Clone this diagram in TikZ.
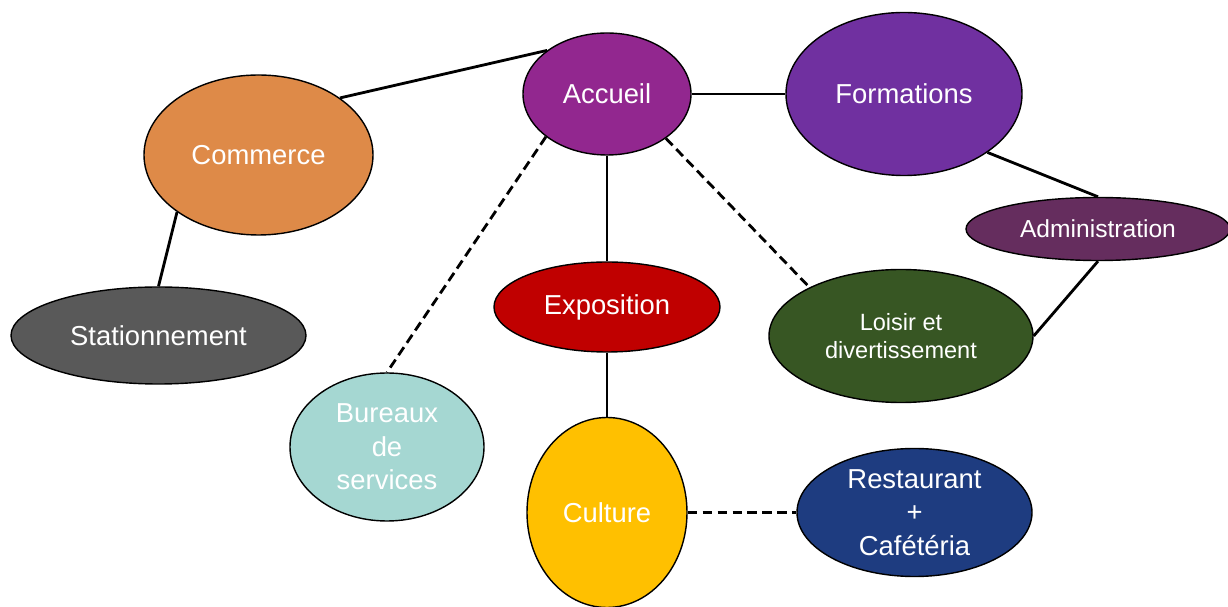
\documentclass[tikz,border=0pt]{standalone}
\usepackage{fontspec}
\setmainfont{Liberation Sans}
\usetikzlibrary{shapes.geometric}
\definecolor{accueilcol}{HTML}{92278F}
\definecolor{formcol}{HTML}{7030A0}
\definecolor{commcol}{HTML}{DE8A48}
\definecolor{statcol}{HTML}{595959}
\definecolor{admincol}{HTML}{652D5E}
\definecolor{expocol}{HTML}{C00000}
\definecolor{loisircol}{HTML}{375623}
\definecolor{burcol}{HTML}{A5D7D2}
\definecolor{cultcol}{HTML}{FFC000}
\definecolor{restocol}{HTML}{1E3C80}
\newcommand{\pxu}{0.02cm}
\newcommand{\bigfont}{\fontsize{15.6}{19}\selectfont}
\newcommand{\midfont}{\fontsize{14}{17}\selectfont}
\newcommand{\smallfont}{\fontsize{13.4}{16}\selectfont}

\begin{document}
\begin{tikzpicture}[x=\pxu, y=-\pxu,
    zone/.style={ellipse, draw=black, line width=0.8pt, text=white,
      inner sep=0pt, align=center, font=\bigfont},
    link/.style={line width=1.6pt},
    dashlink/.style={link, dash pattern=on 5.5pt off 3pt}]
    \useasboundingbox (0,0) rectangle (1228,607);
    % zones
    \node[zone, fill=accueilcol, minimum width=168*\pxu, minimum height=122*\pxu]
      (accueil) at (607,94) {Accueil};
    \node[zone, fill=formcol, minimum width=236*\pxu, minimum height=163*\pxu]
      (formations) at (904,94) {Formations};
    \node[zone, fill=commcol, minimum width=229*\pxu, minimum height=160*\pxu]
      (commerce) at (258.5,155) {Commerce};
    \node[zone, fill=statcol, minimum width=295*\pxu, minimum height=97*\pxu]
      (stationnement) at (158.5,335.5) {Stationnement};
    \node[zone, fill=admincol, minimum width=264*\pxu, minimum height=63*\pxu,
      font=\midfont] (administration) at (1098,229) {Administration};
    \node[zone, fill=expocol, minimum width=226*\pxu, minimum height=90*\pxu]
      (exposition) at (607,307) {Exposition};
    \node[zone, fill=loisircol, minimum width=264*\pxu, minimum height=133*\pxu,
      font=\smallfont] (loisir) at (901,336) {Loisir et\\divertissement};
    \node[zone, fill=burcol, minimum width=194*\pxu, minimum height=148*\pxu]
      (bureaux) at (387,447) {Bureaux\\de\\services};
    \node[zone, fill=cultcol, minimum width=160*\pxu, minimum height=190*\pxu]
      (culture) at (607,512.5) {Culture};
    \node[zone, fill=restocol, minimum width=235*\pxu, minimum height=128*\pxu]
      (restaurant) at (914.5,512.5) {Restaurant\\+\\Caf\'et\'eria};

    % liens
    \draw[link] (commerce.35) -- (accueil.144);
    \draw[link] (commerce.215) -- (stationnement.north);
    \draw[link] (accueil.east) -- (formations.west);
    \draw[link] (accueil.south) -- (exposition.north);
    \draw[link] (formations.-35) -- (administration.north);
    \draw[link] (administration.south) -- (loisir.east);
    \draw[link] (exposition.south) -- (culture.north);
    \draw[dashlink] (accueil.-145) -- (bureaux.north);
    \draw[dashlink] (accueil.-37) -- (loisir.152);
    \draw[dashlink] (culture.east) -- (restaurant.west);
\end{tikzpicture}
\end{document}
